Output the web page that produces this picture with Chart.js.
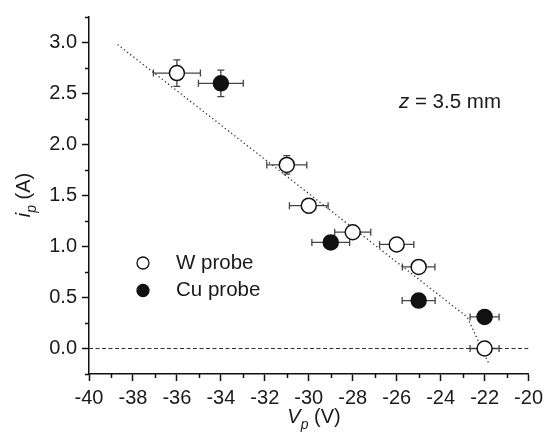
<!DOCTYPE html>
<html>
<head>
<meta charset="utf-8">
<script src="https://cdn.jsdelivr.net/npm/chart.js@4.4.1/dist/chart.umd.min.js"></script>
<style>
  html, body { margin: 0; padding: 0; background: #fff; }
  #wrap { width: 548px; height: 439px; }
</style>
</head>
<body>
<div id="wrap"><canvas id="chart"></canvas></div>
<script>
// W probe (open circles)
const wV = [-36, -31, -30, -28, -26, -25, -22];
const wI = [2.70, 1.80, 1.40, 1.14, 1.02, 0.80, 0.00];
const wVerr = [1.07, 0.91, 0.88, 0.82, 0.78, 0.74, 0.66];
const wIerr = [0.13, 0.09, 0.07, 0.06, 0.05, 0.04, 0.0];

// Cu probe (filled circles)
const cuV = [-34, -29, -25, -22];
const cuI = [2.60, 1.04, 0.47, 0.31];
const cuVerr = [1.02, 0.86, 0.75, 0.66];
const cuIerr = [0.13, 0.05, 0.02, 0.02];

// dotted guide line and zero line
const fitV = [-38.7, -22.8, -21.8];
const fitI = [2.98, 0.31, -0.15];
const zeroV = [-40, -20];
const zeroI = [0, 0];

// tick positions
const xTicks = [-40, -38, -36, -34, -32, -30, -28, -26, -24, -22, -20];
const yTicks = [0, 0.5, 1.0, 1.5, 2.0, 2.5, 3.0];
const xMinor = [-39, -37, -35, -33, -31, -29, -27, -25, -23, -21];
const yMinor = [-0.25, 0.25, 0.75, 1.25, 1.75, 2.25, 2.75, 3.25];

const FONT = '"Liberation Sans", Arial, sans-serif';

const toXY = (xs, ys) => xs.map((x, i) => ({ x: x, y: ys[i] }));

// error bars under the markers
const errorBars = {
  id: 'errorBars',
  beforeDatasetsDraw(chart) {
    const ctx = chart.ctx;
    const xs = chart.scales.x, ys = chart.scales.y;
    const sets = [[wV, wI, wVerr, wIerr], [cuV, cuI, cuVerr, cuIerr]];
    ctx.save();
    ctx.strokeStyle = '#444';
    ctx.lineWidth = 1.3;
    sets.forEach(([vx, vy, ex, ey]) => {
      vx.forEach((v, i) => {
        const px = xs.getPixelForValue(v);
        const py = ys.getPixelForValue(vy[i]);
        const x1 = xs.getPixelForValue(v - ex[i]);
        const x2 = xs.getPixelForValue(v + ex[i]);
        ctx.beginPath();
        ctx.moveTo(x1, py); ctx.lineTo(x2, py);
        ctx.moveTo(x1, py - 3.5); ctx.lineTo(x1, py + 3.5);
        ctx.moveTo(x2, py - 3.5); ctx.lineTo(x2, py + 3.5);
        if (ey[i] > 0) {
          const y1 = ys.getPixelForValue(vy[i] - ey[i]);
          const y2 = ys.getPixelForValue(vy[i] + ey[i]);
          ctx.moveTo(px, y1); ctx.lineTo(px, y2);
          ctx.moveTo(px - 3.5, y1); ctx.lineTo(px + 3.5, y1);
          ctx.moveTo(px - 3.5, y2); ctx.lineTo(px + 3.5, y2);
        }
        ctx.stroke();
      });
    });
    ctx.restore();
  }
};

// minor ticks, axis titles, legend and annotation text
const extras = {
  id: 'extras',
  afterDraw(chart) {
    const ctx = chart.ctx;
    const xs = chart.scales.x, ys = chart.scales.y;
    const a = chart.chartArea;
    ctx.save();
    ctx.strokeStyle = '#111';
    ctx.lineWidth = 1.5;
    ctx.beginPath();
    xMinor.forEach(v => {
      const px = Math.round(xs.getPixelForValue(v)) + 0.5;
      ctx.moveTo(px, a.bottom); ctx.lineTo(px, a.bottom + 4);
    });
    yMinor.forEach(v => {
      const py = Math.round(ys.getPixelForValue(v)) + 0.5;
      ctx.moveTo(a.left, py); ctx.lineTo(a.left - 4, py);
    });
    ctx.stroke();

    ctx.fillStyle = '#1a1a1a';
    ctx.textBaseline = 'alphabetic';

    const drawTitle = (main, sub, rest, cx, cy) => {
      ctx.font = 'italic 20px ' + FONT;
      const w1 = ctx.measureText(main).width;
      ctx.font = 'italic 14px ' + FONT;
      const w2 = ctx.measureText(sub).width;
      ctx.font = '20px ' + FONT;
      const w3 = ctx.measureText(rest).width;
      let x = cx - (w1 + w2 + w3) / 2;
      ctx.font = 'italic 20px ' + FONT;
      ctx.fillText(main, x, cy); x += w1;
      ctx.font = 'italic 14px ' + FONT;
      ctx.fillText(sub, x, cy + 6); x += w2;
      ctx.font = '20px ' + FONT;
      ctx.fillText(rest, x, cy);
    };
    drawTitle('V', 'p', ' (V)', 314, 423);

    ctx.save();
    ctx.translate(30, 195);
    ctx.rotate(-Math.PI / 2);
    drawTitle('i', 'p', ' (A)', 0, 0);
    ctx.restore();

    // annotation
    ctx.font = 'italic 20.5px ' + FONT;
    const zw = ctx.measureText('z').width;
    ctx.fillText('z', 399, 108);
    ctx.font = '20.5px ' + FONT;
    ctx.fillText(' = 3.5 mm', 399 + zw, 108);

    // legend
    const legend = [['W probe', '#fff'], ['Cu probe', '#111']];
    legend.forEach(([label, fill], i) => {
      const ly = 263 + i * 27.5;
      ctx.beginPath();
      ctx.arc(143, ly, 6, 0, Math.PI * 2);
      ctx.fillStyle = fill;
      ctx.fill();
      ctx.lineWidth = 1.3;
      ctx.strokeStyle = '#111';
      ctx.stroke();
      ctx.fillStyle = '#1a1a1a';
      ctx.font = '20.5px ' + FONT;
      ctx.textBaseline = 'middle';
      ctx.fillText(label, 176, ly);
    });
    ctx.restore();
  }
};

new Chart(document.getElementById('chart'), {
  type: 'scatter',
  data: {
    datasets: [
      {
        label: 'W probe',
        data: toXY(wV, wI),
        pointRadius: 7.5,
        pointBackgroundColor: '#fff',
        pointBorderColor: '#111',
        pointBorderWidth: 1.5,
        order: 0
      },
      {
        label: 'Cu probe',
        data: toXY(cuV, cuI),
        pointRadius: 7.5,
        pointBackgroundColor: '#111',
        pointBorderColor: '#111',
        pointBorderWidth: 1.5,
        order: 0
      },
      {
        label: 'fit',
        type: 'line',
        data: toXY(fitV, fitI),
        borderColor: '#333',
        borderWidth: 1.3,
        borderDash: [1.3, 2.7],
        pointRadius: 0,
        fill: false,
        order: 1
      },
      {
        label: 'zero',
        type: 'line',
        data: toXY(zeroV, zeroI),
        borderColor: '#333',
        borderWidth: 1.2,
        borderDash: [4, 2.5],
        pointRadius: 0,
        fill: false,
        order: 1
      }
    ]
  },
  options: {
    responsive: true,
    maintainAspectRatio: false,
    animation: false,
    layout: { padding: { top: 14, right: 17, left: 0, bottom: 0 } },
    plugins: {
      legend: { display: false },
      tooltip: { enabled: false }
    },
    scales: {
      x: {
        type: 'linear',
        min: -40,
        max: -20,
        afterFit: s => { s.height = 65; },
        afterBuildTicks: s => { s.ticks = xTicks.map(v => ({ value: v })); },
        border: { display: true, color: '#111', width: 1.5 },
        grid: { drawOnChartArea: false, drawTicks: true, tickLength: 7, tickColor: '#111', tickWidth: 1.5 },
        ticks: {
          padding: 5,
          color: '#1a1a1a',
          font: { family: FONT, size: 20 },
          maxRotation: 0,
          autoSkip: false
        }
      },
      y: {
        type: 'linear',
        min: -0.25,
        max: 3.25,
        afterFit: s => { s.width = 89; },
        afterBuildTicks: s => { s.ticks = yTicks.map(v => ({ value: v })); },
        border: { display: true, color: '#111', width: 1.5 },
        grid: { drawOnChartArea: false, drawTicks: true, tickLength: 7, tickColor: '#111', tickWidth: 1.5 },
        ticks: {
          padding: 5,
          color: '#1a1a1a',
          font: { family: FONT, size: 20 },
          autoSkip: false,
          callback: v => v.toFixed(1)
        }
      }
    }
  },
  plugins: [errorBars, extras]
});
</script>
</body>
</html>
